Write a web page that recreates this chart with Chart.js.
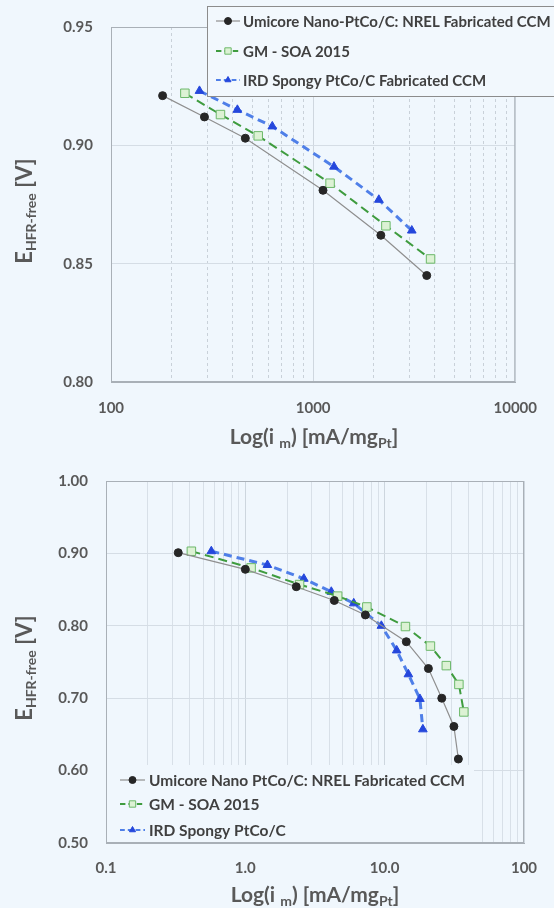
<!DOCTYPE html>
<html>
<head>
<meta charset="utf-8">
<script src="https://cdn.jsdelivr.net/npm/chart.js@4.4.0/dist/chart.umd.min.js"></script>
<style>
  html, body { margin: 0; padding: 0; background: #f0f7fd; }
  .wrap { width: 554px; height: 454px; position: relative; }
  canvas { display: block; }
</style>
</head>
<body>
<div class="wrap"><canvas id="topChart" width="554" height="454"></canvas></div>
<div class="wrap"><canvas id="bottomChart" width="554" height="454"></canvas></div>
<script>
// series names
const topLabels = ['Umicore Nano-PtCo/C: NREL Fabricated CCM', 'GM - SOA 2015', 'IRD Spongy PtCo/C Fabricated CCM'];
const bottomLabels = ['Umicore Nano PtCo/C: NREL Fabricated CCM', 'GM - SOA 2015', 'IRD Spongy PtCo/C'];

// top chart: mass activity (mA/mgPt) vs HFR-free voltage
const topUmicoreX = [180, 290, 462, 1119, 2163, 3648];
const topUmicoreY = [0.921, 0.912, 0.903, 0.881, 0.862, 0.845];
const topGmX = [232, 348, 535, 1213, 2291, 3811];
const topGmY = [0.922, 0.913, 0.904, 0.884, 0.866, 0.852];
const topIrdX = [274, 422, 628, 1268, 2114, 3077];
const topIrdY = [0.923, 0.915, 0.908, 0.891, 0.877, 0.864];

// bottom chart
const botUmicoreX = [0.33, 1.0, 2.32, 4.35, 7.27, 14.3, 20.6, 25.7, 31.4, 33.8];
const botUmicoreY = [0.901, 0.878, 0.854, 0.835, 0.815, 0.778, 0.741, 0.700, 0.661, 0.616];
const botGmX = [0.41, 1.10, 2.45, 4.6, 7.45, 14.1, 21.3, 27.7, 34.1, 37.0];
const botGmY = [0.903, 0.880, 0.857, 0.841, 0.826, 0.799, 0.772, 0.745, 0.719, 0.681];
const botIrdX = [0.57, 1.44, 2.63, 4.14, 6.0, 9.47, 12.2, 14.8, 17.9, 18.8];
const botIrdY = [0.903, 0.884, 0.865, 0.847, 0.831, 0.800, 0.766, 0.733, 0.699, 0.657];

// tick labels
const topXTickLabels = ['100', '1000', '10000'];
const topYTickLabels = ['0.80', '0.85', '0.90', '0.95'];
const bottomXTickLabels = ['0.1', '1.0', '10.0', '100'];
const bottomYTickLabels = ['0.50', '0.60', '0.70', '0.80', '0.90', '1.00'];

const FONT = 'Lato';
const GREY = '#595959';

const isDecade = v => Math.abs(Math.log10(v) - Math.round(Math.log10(v))) < 1e-9;

// 1..9 x 10^e grid values between two decades
function logGrid(fromExp, toExp) {
  const vals = [];
  for (let e = fromExp; e < toExp; e++) {
    for (let k = 1; k < 10; k++) vals.push(k * Math.pow(10, e));
  }
  vals.push(Math.pow(10, toExp));
  return vals;
}

const umicoreStyle = {
  borderColor: '#8f8f8f', borderWidth: 1.2,
  pointStyle: 'circle', pointRadius: 4,
  pointBackgroundColor: '#262626', pointBorderColor: '#262626', pointBorderWidth: 1
};
const gmStyle = {
  borderColor: '#3f9c3f', borderWidth: 2, borderDash: [9, 5],
  pointStyle: 'rect', pointRadius: 6,
  pointBackgroundColor: '#dcf2d4', pointBorderColor: '#6cb86a', pointBorderWidth: 1
};
const irdStyle = {
  borderColor: '#4f7fe8', borderWidth: 3, borderDash: [8, 5],
  pointStyle: 'triangle', pointRadius: 5,
  pointBackgroundColor: '#2547dc', pointBorderColor: '#2547dc', pointBorderWidth: 1
};

function series(xs, ys, label, style) {
  return Object.assign({ label, data: xs.map((x, i) => ({ x, y: ys[i] })), showLine: true, tension: 0 }, style);
}

function drawRich(ctx, segs, cx, cy, rotate) {
  ctx.save();
  ctx.translate(cx, cy);
  if (rotate) ctx.rotate(-Math.PI / 2);
  const widths = segs.map(s => { ctx.font = `bold ${s.size}px ${FONT}`; return ctx.measureText(s.text).width; });
  const total = widths.reduce((a, b) => a + b, 0);
  let x = -total / 2;
  ctx.fillStyle = GREY;
  ctx.textBaseline = 'alphabetic';
  segs.forEach((s, i) => {
    ctx.font = `bold ${s.size}px ${FONT}`;
    ctx.fillText(s.text, x, s.sub ? 11 : 7);
    x += widths[i];
  });
  ctx.restore();
}

function makeTitles(xPos, yPos) {
  const xSegs = [
    { text: 'Log(i ', size: 21 }, { text: 'm', size: 14, sub: true },
    { text: ') [mA/mg', size: 21 }, { text: 'Pt', size: 14, sub: true }, { text: ']', size: 21 }
  ];
  const ySegs = [
    { text: 'E', size: 22 }, { text: 'HFR-free', size: 14, sub: true }, { text: ' [V]', size: 22 }
  ];
  return {
    id: 'axisTitles',
    afterDraw(chart) {
      drawRich(chart.ctx, xSegs, xPos[0], xPos[1], false);
      drawRich(chart.ctx, ySegs, yPos[0], yPos[1], true);
    }
  };
}

const frame = {
  id: 'frame',
  beforeDatasetsDraw(chart) {
    const { ctx, chartArea: a } = chart;
    ctx.save();
    ctx.strokeStyle = '#a9b0b7';
    ctx.lineWidth = 1;
    ctx.strokeRect(a.left + 0.5, a.top + 0.5, a.width - 1, a.height - 1);
    ctx.restore();
  }
};

function makeLegend(cfg) {
  return {
    id: 'customLegend',
    afterDraw(chart) {
      const ctx = chart.ctx;
      const b = cfg.box;
      ctx.save();
      ctx.fillStyle = cfg.bg;
      ctx.fillRect(b.x, b.y, b.w, b.h);
      if (cfg.border) {
        ctx.strokeStyle = cfg.border;
        ctx.lineWidth = 1;
        ctx.strokeRect(b.x + 0.5, b.y + 0.5, b.w, b.h);
      }
      chart.data.datasets.forEach((ds, i) => {
        const y = cfg.rows[i];
        ctx.setLineDash(ds.borderDash ? ds.borderDash.map(d => d * 0.6) : []);
        ctx.strokeStyle = ds.borderColor;
        ctx.lineWidth = Math.min(ds.borderWidth, 2);
        ctx.beginPath();
        ctx.moveTo(cfg.lineX0, y);
        ctx.lineTo(cfg.lineX1, y);
        ctx.stroke();
        ctx.setLineDash([]);
        ctx.fillStyle = ds.pointBackgroundColor;
        ctx.strokeStyle = ds.pointBorderColor;
        ctx.lineWidth = ds.pointBorderWidth;
        Chart.helpers.drawPoint(ctx, {
          pointStyle: ds.pointStyle, rotation: 0,
          radius: ds.pointStyle === 'rect' ? 4.5 : 3.5, borderWidth: ds.pointBorderWidth
        }, (cfg.lineX0 + cfg.lineX1) / 2, y);
        ctx.fillStyle = '#404040';
        ctx.font = `bold ${cfg.fontSize}px ${FONT}`;
        ctx.textBaseline = 'middle';
        ctx.fillText(ds.label, cfg.textX, y + 1);
      });
      ctx.restore();
    }
  };
}

function buildChart(id, opts) {
  const xLabelFor = v => isDecade(v) ? opts.xTickLabels[Math.round(Math.log10(v)) - opts.xMinExp] : '';
  return new Chart(document.getElementById(id), {
    type: 'scatter',
    data: { datasets: opts.datasets },
    options: {
      responsive: false,
      animation: false,
      layout: { padding: opts.padding },
      plugins: { legend: { display: false }, tooltip: { enabled: false } },
      scales: {
        x: {
          type: 'logarithmic',
          min: Math.pow(10, opts.xMinExp),
          max: Math.pow(10, opts.xMaxExp),
          afterBuildTicks: s => { s.ticks = logGrid(opts.xMinExp, opts.xMaxExp).map(v => ({ value: v, major: isDecade(v) })); },
          afterFit: s => { s.height = opts.xHeight; },
          ticks: {
            autoSkip: false, maxRotation: 0, padding: opts.xPad,
            color: GREY, font: { family: FONT, size: 15, weight: 'bold' },
            callback: v => xLabelFor(v)
          },
          grid: {
            drawTicks: false,
            color: c => (c.tick && isDecade(c.tick.value)) ? opts.majorGrid : opts.minorGrid
          },
          border: {
            display: true, color: '#a9b0b7',
            dash: c => (opts.dashedMinor && c.tick && !isDecade(c.tick.value)) ? [3, 3] : []
          }
        },
        y: {
          min: opts.yMin, max: opts.yMax,
          afterFit: s => { s.width = opts.yWidth; },
          ticks: {
            stepSize: opts.yStep, padding: 18,
            color: GREY, font: { family: FONT, size: 15, weight: 'bold' },
            callback: (v, i) => opts.yTickLabels[i]
          },
          grid: { drawTicks: false, color: '#d5dde5' },
          border: { display: true, color: '#a9b0b7' }
        }
      }
    },
    plugins: [frame, makeLegend(opts.legend), makeTitles(opts.xTitle, opts.yTitle)]
  });
}

buildChart('topChart', {
  datasets: [
    series(topUmicoreX, topUmicoreY, topLabels[0], umicoreStyle),
    series(topGmX, topGmY, topLabels[1], gmStyle),
    series(topIrdX, topIrdY, topLabels[2], irdStyle)
  ],
  padding: { top: 21, right: 37, left: 0, bottom: 0 },
  xMinExp: 2, xMaxExp: 4, xTickLabels: topXTickLabels,
  xHeight: 72, xPad: 17, yWidth: 111,
  yMin: 0.80, yMax: 0.95, yStep: 0.05, yTickLabels: topYTickLabels,
  majorGrid: '#cfd7df', minorGrid: '#c9d1d9', dashedMinor: true,
  legend: {
    box: { x: 207, y: 6, w: 380, h: 90 }, bg: '#f2f8fd', border: '#8c8c8c',
    rows: [21, 51, 80], lineX0: 216, lineX1: 240, textX: 243, fontSize: 15
  },
  xTitle: [314, 437], yTitle: [25, 211]
});

buildChart('bottomChart', {
  datasets: [
    series(botUmicoreX, botUmicoreY, bottomLabels[0], umicoreStyle),
    series(botGmX, botGmY, bottomLabels[1], gmStyle),
    series(botIrdX, botIrdY, bottomLabels[2], irdStyle)
  ],
  padding: { top: 19, right: 30, left: 0, bottom: 0 },
  xMinExp: -1, xMaxExp: 2, xTickLabels: bottomXTickLabels,
  xHeight: 65, xPad: 16, yWidth: 106,
  yMin: 0.5, yMax: 1.0, yStep: 0.1, yTickLabels: bottomYTickLabels,
  majorGrid: '#cdd6de', minorGrid: '#d8e0e8', dashedMinor: false,
  legend: {
    box: { x: 107, y: 311, w: 367, h: 77 }, bg: '#f0f7fd', border: null,
    rows: [326, 350, 376], lineX0: 120, lineX1: 145, textX: 149, fontSize: 15.5
  },
  xTitle: [315, 441], yTitle: [25, 214]
});
</script>
</body>
</html>
